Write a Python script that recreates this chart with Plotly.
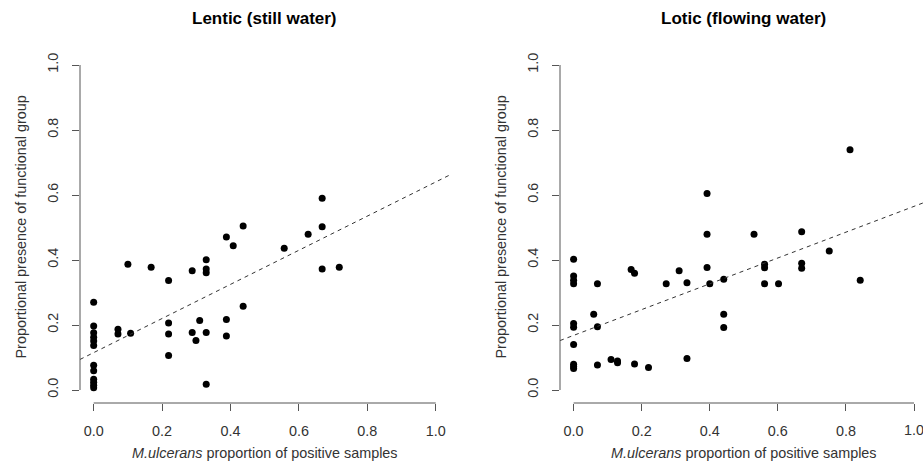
import plotly.graph_objects as go

# ---- data ----
lentic_x = [0, 0, 0, 0, 0, 0, 0, 0, 0, 0, 0, 0,
            0.071, 0.071, 0.108, 0.100, 0.168,
            0.219, 0.219, 0.219, 0.219,
            0.288, 0.288, 0.299, 0.310,
            0.329, 0.329, 0.329, 0.329, 0.329,
            0.388, 0.408, 0.388, 0.388,
            0.437, 0.437,
            0.557, 0.627, 0.668, 0.668, 0.668, 0.718]
lentic_y = [0.270, 0.197, 0.176, 0.162, 0.151, 0.137, 0.076, 0.059, 0.033, 0.024, 0.015, 0.007,
            0.187, 0.172, 0.175, 0.387, 0.378,
            0.337, 0.206, 0.172, 0.106,
            0.367, 0.177, 0.152, 0.214,
            0.401, 0.372, 0.361, 0.177, 0.018,
            0.471, 0.444, 0.217, 0.166,
            0.505, 0.258,
            0.436, 0.479, 0.590, 0.502, 0.372, 0.378]

lotic_x = [0, 0, 0, 0, 0, 0, 0, 0, 0, 0,
           0.059, 0.070, 0.070, 0.070,
           0.110, 0.129, 0.129,
           0.169, 0.179, 0.179, 0.220,
           0.272, 0.310, 0.333, 0.333,
           0.392, 0.392, 0.392, 0.400,
           0.441, 0.441, 0.441,
           0.530, 0.561, 0.561, 0.561, 0.602,
           0.670, 0.670, 0.670, 0.751, 0.812, 0.842]
lotic_y = [0.402, 0.351, 0.338, 0.327, 0.205, 0.193, 0.140, 0.079, 0.072, 0.066,
           0.233, 0.327, 0.195, 0.077,
           0.094, 0.089, 0.084,
           0.371, 0.359, 0.080, 0.069,
           0.327, 0.367, 0.330, 0.097,
           0.605, 0.479, 0.377, 0.327,
           0.341, 0.233, 0.192,
           0.479, 0.387, 0.376, 0.327, 0.327,
           0.487, 0.390, 0.375, 0.428, 0.739, 0.338]

# regression lines (intercept, slope)
lentic_fit = (0.115, 0.525)
lotic_fit = (0.168, 0.397)

titles = ["Lentic (still water)", "Lotic (flowing water)"]
x_title = "<i>M.ulcerans</i> proportion of positive samples"
y_title = "Proportional presence of functional group"
tick_vals = [0.0, 0.2, 0.4, 0.6, 0.8, 1.0]
tick_text = ["0.0", "0.2", "0.4", "0.6", "0.8", "1.0"]

# ---- layout geometry (pixels) ----
W, H = 923, 475
FONT = "Liberation Sans, Arial, sans-serif"
AX_COL = "#555555"
TXT_COL = "#333333"
TICK_SIZE = 14.4

xdom1 = [80 / W, 449.4 / W]
xdom2 = [560 / W, 1.0]
ydom = [(H - 403) / H, (H - 52) / H]
xr1 = [-0.04, 1.04]
xr2 = [-0.04, (923 - 573.3) / 340.7]
yr = [-0.04, 1.04]

fig = go.Figure()

line_x = [-0.04, 1.04]
for i, (xs, ys, fit) in enumerate([(lentic_x, lentic_y, lentic_fit), (lotic_x, lotic_y, lotic_fit)]):
    xa = "x" if i == 0 else "x2"
    ya = "y" if i == 0 else "y2"
    fig.add_trace(go.Scatter(
        x=xs, y=ys, mode="markers", xaxis=xa, yaxis=ya,
        marker=dict(color="black", size=7, line=dict(width=0)),
        showlegend=False, hoverinfo="skip"))
    fig.add_trace(go.Scatter(
        x=line_x, y=[fit[0] + fit[1] * v for v in line_x], mode="lines",
        xaxis=xa, yaxis=ya,
        line=dict(color="#333333", width=1, dash="4px,4px"),
        showlegend=False, hoverinfo="skip"))

axis_common = dict(
    showgrid=False, zeroline=False, showline=False,
    ticks="outside", ticklen=7, tickwidth=1, tickcolor=AX_COL,
    tickvals=tick_vals, ticktext=tick_text,
    tickfont=dict(family=FONT, size=TICK_SIZE, color=TXT_COL),
    ticklabelstandoff=8,
    fixedrange=True,
)

fig.update_layout(
    width=W, height=H,
    margin=dict(l=0, r=0, t=0, b=0),
    paper_bgcolor="white", plot_bgcolor="white",
    xaxis=dict(domain=xdom1, range=xr1, anchor="y", **axis_common),
    yaxis=dict(domain=ydom, range=yr, anchor="x", tickangle=-90, **axis_common),
    xaxis2=dict(domain=xdom2, range=xr2, anchor="y2", **axis_common),
    yaxis2=dict(domain=ydom, range=yr, anchor="x2", tickangle=-90, **axis_common),
)

shapes = []
annotations = []
for i, (xd, xa, ya) in enumerate([(xdom1, "x", "y"), (xdom2, "x2", "y2")]):
    # R-style axis lines spanning first to last tick
    shapes.append(dict(type="line", xref=xa, yref="paper", x0=0, x1=1,
                       y0=ydom[0], y1=ydom[0], line=dict(color=AX_COL, width=1)))
    shapes.append(dict(type="line", xref="paper", yref=ya, x0=xd[0], x1=xd[0],
                       y0=0, y1=1, line=dict(color=AX_COL, width=1)))
    annotations.append(dict(text="<b>" + titles[i] + "</b>", xref=xa, yref="paper",
                            x=0.5, y=(H - 18) / H, showarrow=False,
                            xanchor="center", yanchor="middle",
                            font=dict(family=FONT, size=17, color="black")))
    annotations.append(dict(text=x_title, xref=xa, yref="paper",
                            x=0.5, y=(H - 453) / H, showarrow=False,
                            xanchor="center", yanchor="middle",
                            font=dict(family=FONT, size=14.4, color=TXT_COL)))
    annotations.append(dict(text=y_title, xref="paper", yref=ya,
                            x=(xd[0] * W - 60) / W, y=0.5, showarrow=False,
                            textangle=-90, xanchor="center", yanchor="middle",
                            font=dict(family=FONT, size=14.4, color=TXT_COL)))

# last tick label of right panel runs past the page edge; plotly hides it, so place it as text
annotations.append(dict(text=tick_text[-1], xref="x2", yref="paper",
                        x=tick_vals[-1], y=(H - 430) / H, showarrow=False,
                        xanchor="center", yanchor="middle",
                        font=dict(family=FONT, size=TICK_SIZE, color=TXT_COL)))

fig.update_layout(shapes=shapes, annotations=annotations)

fig.write_html("out.html")
